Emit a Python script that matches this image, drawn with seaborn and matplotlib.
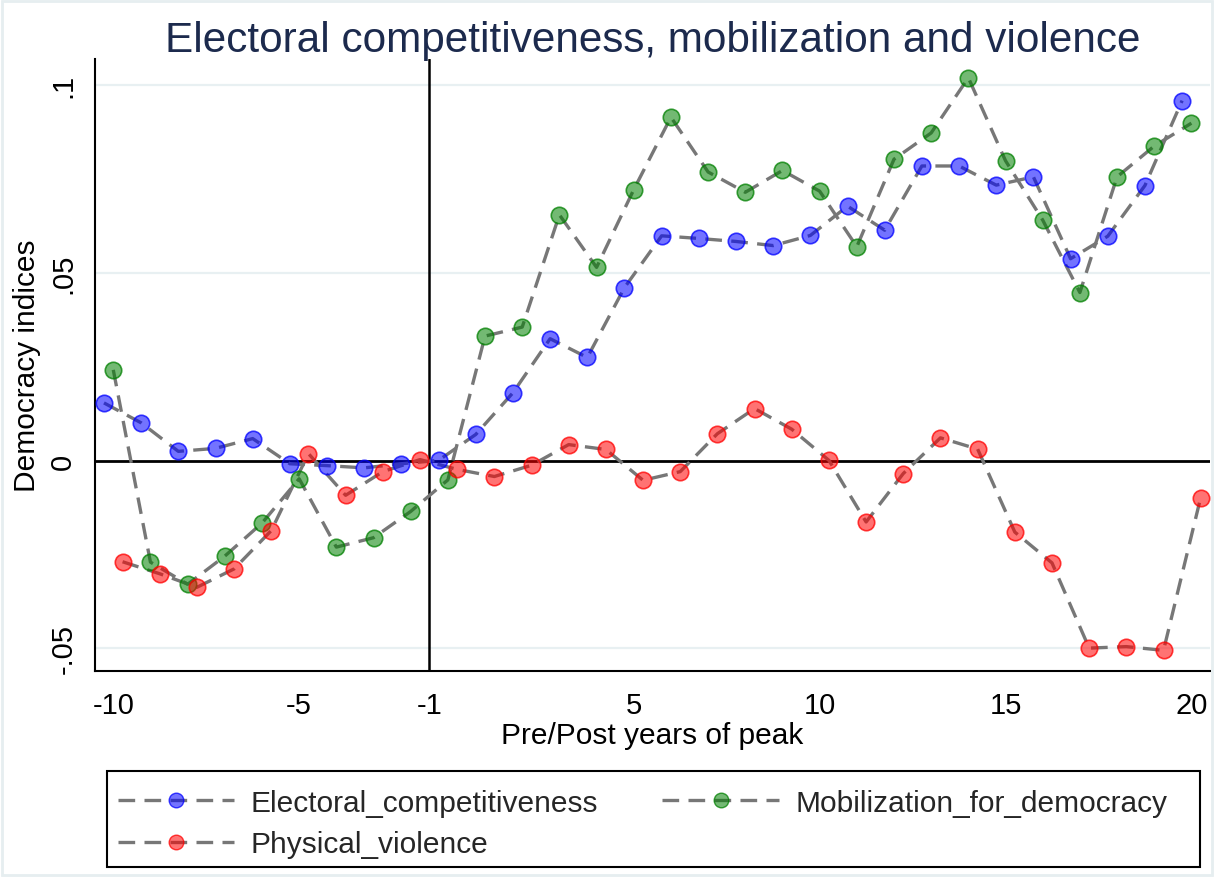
import numpy as np
import pandas as pd
import matplotlib
matplotlib.use("Agg")
import matplotlib.pyplot as plt
from matplotlib.lines import Line2D
from matplotlib.patches import Rectangle
import seaborn as sns

# Event-time periods (no period 0) and estimated coefficients
years = list(range(-10, 0)) + list(range(1, 21))

electoral_competitiveness = [
    0.0154, 0.0101, 0.0025, 0.0033, 0.0059, -0.0008, -0.0013, -0.0019, -0.0008, 0.0001,
    0.0070, 0.0181, 0.0325, 0.0275, 0.0461, 0.0599, 0.0592, 0.0584, 0.0573, 0.0600,
    0.0678, 0.0614, 0.0785, 0.0785, 0.0734, 0.0756, 0.0538, 0.0598, 0.0733, 0.0959,
]
mobilization_for_democracy = [
    0.0242, -0.0270, -0.0329, -0.0254, -0.0166, -0.0048, -0.0230, -0.0205, -0.0135, -0.0051,
    0.0332, 0.0356, 0.0655, 0.0515, 0.0722, 0.0915, 0.0769, 0.0715, 0.0773, 0.0718,
    0.0570, 0.0803, 0.0873, 0.1020, 0.0799, 0.0641, 0.0448, 0.0756, 0.0838, 0.0899,
]
physical_violence = [
    -0.0269, -0.0301, -0.0337, -0.0288, -0.0186, 0.0019, -0.0092, -0.0029, 0.0003, -0.0023,
    -0.0042, -0.0012, 0.0043, 0.0030, -0.0052, -0.0029, 0.0072, 0.0139, 0.0084, 0.0001,
    -0.0163, -0.0034, 0.0061, 0.0031, -0.0190, -0.0272, -0.0499, -0.0495, -0.0505, -0.0098,
]

series_names = ["Electoral_competitiveness", "Mobilization_for_democracy", "Physical_violence"]
series_colors = [(0.0, 0.0, 1.0), (0.0, 0.5, 0.0), (1.0, 0.0, 0.0)]
series_shift = [-0.25, 0.0, 0.25]   # small horizontal dodge between series

xtick_labels = ["-10", "-5", "-1", "5", "10", "15", "20"]
xtick_pos = [0, 5, 8.5, 14, 19, 24, 29]
ytick_vals = [-0.05, 0, 0.05, 0.1]
ytick_labels = ["-.05", "0", ".05", ".1"]
peak_line = 8.5

frames = []
for name, vals, shift in zip(series_names,
                             [electoral_competitiveness, mobilization_for_democracy, physical_violence],
                             series_shift):
    frames.append(pd.DataFrame({
        "series": name,
        "year": years,
        "pos": np.arange(len(years)) + shift,
        "value": vals,
    }))
df = pd.concat(frames, ignore_index=True)

sns.set_theme(style="white")
plt.rcParams["font.family"] = ["Liberation Sans", "DejaVu Sans"]

fig = plt.figure(figsize=(12.14, 8.78), dpi=100)
fig.patch.set_facecolor("white")
ax = fig.add_axes([0.078, 0.2346, 0.9187, 0.6971])

line_gray = "#777777"
for name in series_names:
    sub = df[df["series"] == name]
    sns.lineplot(data=sub, x="pos", y="value", ax=ax, color=line_gray,
                 linewidth=2.4, dashes=False, zorder=3, legend=False)
for ln in ax.get_lines():
    ln.set_dashes([5.0, 2.8])

for name, col in zip(series_names, series_colors):
    sub = df[df["series"] == name]
    sns.scatterplot(data=sub, x="pos", y="value", ax=ax, s=140,
                    color=(*col, 0.55), edgecolor=(*col, 0.75), linewidth=1.2,
                    zorder=4, legend=False)

# reference lines
ax.axhline(0, color="black", linewidth=2.0, zorder=2)
ax.axvline(peak_line, color="black", linewidth=1.8, zorder=2)
for yv in [0.1, 0.05, -0.05]:
    ax.axhline(yv, color="#e8f0f2", linewidth=1.6, zorder=1)

ax.set_xlim(-0.5, 29.5)
ax.set_ylim(-0.056, 0.107)
ax.set_xticks(xtick_pos)
ax.set_xticklabels(xtick_labels)
ax.set_yticks(ytick_vals)
ax.set_yticklabels(ytick_labels, rotation=90, va="center")

for side in ["top", "right"]:
    ax.spines[side].set_visible(False)
for side in ["left", "bottom"]:
    ax.spines[side].set_color("black")
    ax.spines[side].set_linewidth(1.5)

ax.tick_params(axis="both", which="major", direction="out", length=8.5, width=1.3,
               color="black", labelsize=21, labelcolor="black")
ax.tick_params(axis="x", pad=6)
ax.tick_params(axis="y", pad=4)

ax.set_xlabel("Pre/Post years of peak", fontsize=21.5, color="black", labelpad=1)
ax.set_ylabel("Democracy indices", fontsize=21.5, color="black", labelpad=6)
ax.set_title("Electoral competitiveness, mobilization and violence",
             fontsize=30.4, color="#1c2a4d", pad=6)

# legend entries laid out row by row: two per row
order = [0, 2, 1]
handles = [
    Line2D([0], [0], color=line_gray, linewidth=2.4, dashes=[5.0, 2.8],
           marker="o", markersize=10.5, markerfacecolor=(*series_colors[i], 0.55),
           markeredgecolor=(*series_colors[i], 0.75), markeredgewidth=1.0)
    for i in order
]
labels = [series_names[i] for i in order]
leg = fig.legend(handles, labels, loc="upper left",
                 bbox_to_anchor=(0.087, 0.114), ncol=2, frameon=False,
                 fontsize=21.5, handlelength=3.9, handletextpad=0.56,
                 columnspacing=2.15, labelspacing=0.45, borderaxespad=0)

# legend frame and outer border
fig.patches.append(Rectangle((107 / 1214, 1 - 868 / 878), (1200 - 107) / 1214, (868 - 772) / 878,
                             transform=fig.transFigure, fill=False, edgecolor="black",
                             linewidth=1.5))
fig.patches.append(Rectangle((0.002, 0.002), 0.996, 0.996, transform=fig.transFigure,
                             fill=False, edgecolor="#e6eef0", linewidth=2))

fig.savefig("out.png", dpi=100)
